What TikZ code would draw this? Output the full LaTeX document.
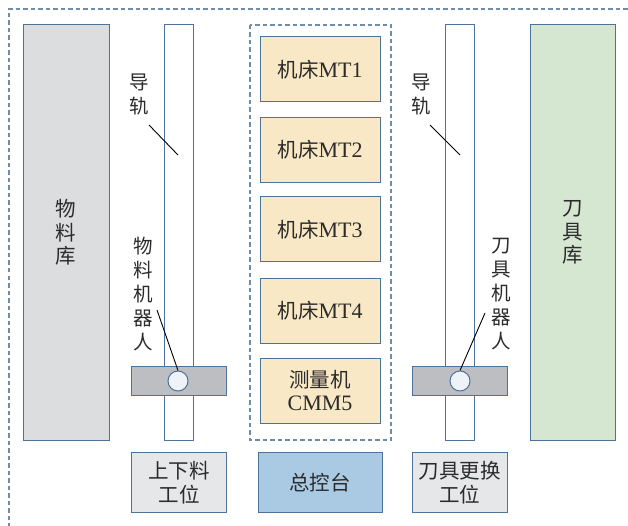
\documentclass[tikz,border=0pt]{standalone}
\usepackage{fontspec}
\setmainfont{Liberation Serif}
\newfontfamily\cjk{Noto Sans CJK SC}
\definecolor{bord}{HTML}{4E739B}
\definecolor{dashc}{HTML}{6F8CAA}
\definecolor{libgray}{HTML}{DCDDDF}
\definecolor{robgray}{HTML}{BDBEC1}
\definecolor{machfill}{HTML}{F9E8C5}
\definecolor{toolfill}{HTML}{D6E7D1}
\definecolor{stfill}{HTML}{E6E7E9}
\definecolor{ctrlfill}{HTML}{AACAE3}
\definecolor{circfill}{HTML}{EFF3F7}
\definecolor{txt}{HTML}{2B2B2B}
\begin{document}
\begin{tikzpicture}[x=1pt,y=-1pt,
  lbl/.style={text=txt,font=\cjk\fontsize{19.5}{24}\selectfont,align=center,inner sep=0pt},
  box/.style={draw=bord,line width=1pt,inner sep=0pt,align=center,text=txt,font=\fontsize{20.5}{23.5}\selectfont},
  rail/.style={box,fill=white,minimum width=29pt,minimum height=415pt},
  robot/.style={box,fill=robgray,minimum width=95pt,minimum height=29pt},
  joint/.style={circle,draw=bord,line width=1pt,fill=circfill,minimum size=20pt,inner sep=0pt},
  mach/.style={box,fill=machfill,minimum width=120pt,minimum height=65pt},
  station/.style={box,minimum width=95pt,minimum height=60pt},
  dashbox/.style={draw=dashc,line width=1.1pt,dash pattern=on 4.5pt off 3pt},
  leader/.style={draw=black,line width=0.9pt}]
\useasboundingbox (0,0) rectangle (628,526);
% outer dashed frame (runs past right and bottom edges)
\draw[dashbox] (9,640) -- (9,9) -- (700,9);
% centre dashed box
\draw[dashbox] (250,25) rectangle (391,440);
% libraries
\node[box,fill=libgray,minimum width=86pt,minimum height=415pt] (matlib) at (66,232.5) {\cjk 物\\\cjk 料\\\cjk 库};
\node[box,fill=toolfill,minimum width=85pt,minimum height=415pt] (toollib) at (572.5,232.5) {\cjk 刀\\\cjk 具\\\cjk 库};
% rails
\node[rail] (railL) at (178.5,232.5) {};
\node[rail] (railR) at (460,232.5) {};
% robots
\node[robot] (robL) at (178.5,380.5) {};
\node[robot] (robR) at (459.5,380.5) {};
\node[joint] (jL) at (178,381) {};
\node[joint] (jR) at (460,381) {};
% machines
\node[mach] (mt1) at (320,69.5) {\cjk 机床\normalfont\fontsize{22}{24}\selectfont MT1};
\node[mach] (mt2) at (320,150) {\cjk 机床\normalfont\fontsize{22}{24}\selectfont MT2};
\node[mach] (mt3) at (320,229.5) {\cjk 机床\normalfont\fontsize{22}{24}\selectfont MT3};
\node[mach] (mt4) at (320,310.5) {\cjk 机床\normalfont\fontsize{22}{24}\selectfont MT4};
\node[mach] (cmm) at (320,390.5) {\cjk 测量机\\\fontsize{22}{24}\selectfont CMM5};
% stations
\node[station,fill=stfill] (loadst) at (179,482.5) {\cjk 上下料\\\cjk 工位};
\node[box,fill=ctrlfill,minimum width=124pt,minimum height=60pt] (ctrl) at (320,482.5) {\cjk 总控台};
\node[station,fill=stfill] (toolst) at (459.5,482.5) {\cjk 刀具更换\\\cjk 工位};
% labels
\node[lbl] (guideL) at (139,95) {导\\轨};
\node[lbl] (guideR) at (421,95) {导\\轨};
\node[lbl] (matrob) at (143,294) {物\\料\\机\\器\\人};
\node[lbl] (toolrob) at (501,294) {刀\\具\\机\\器\\人};
% leaders
\coordinate (gLs) at (149,125); \coordinate (gLe) at (178,155);
\coordinate (gRs) at (430,125); \coordinate (gRe) at (460,155);
\coordinate (mrs) at (157,310);
\coordinate (trs) at (485,313);
\draw[leader] (gLs) -- (gLe);
\draw[leader] (gRs) -- (gRe);
\draw[leader] (mrs) -- (jL.north);
\draw[leader] (trs) -- (jR.north);
\end{tikzpicture}
\end{document}
